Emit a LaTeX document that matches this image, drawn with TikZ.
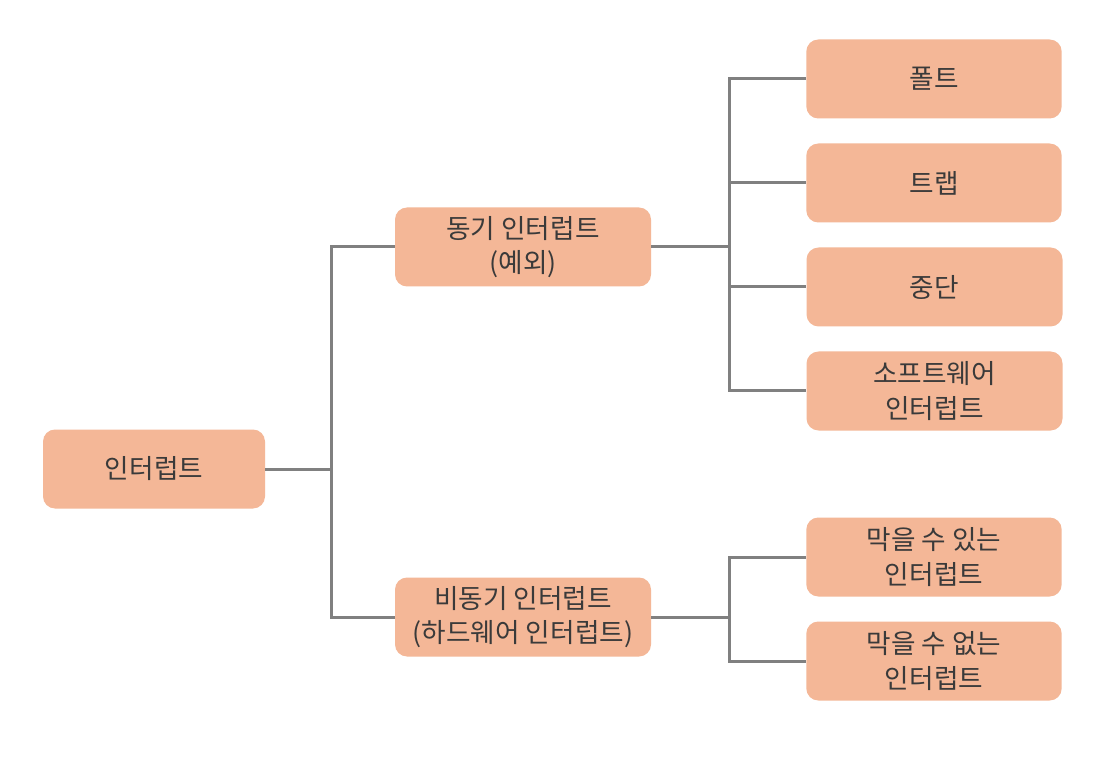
\documentclass[tikz,border=0pt]{standalone}
\usepackage{fontspec}
\newfontfamily\kr{Noto Sans CJK KR}
\definecolor{boxfill}{HTML}{F4B797}
\definecolor{textc}{HTML}{3A3A3A}
\definecolor{linec}{HTML}{808080}
\begin{document}
\begin{tikzpicture}[x=0.75pt,y=-0.75pt,
  box/.style={fill=boxfill, rounded corners=9pt, text=textc,
    font=\kr\fontsize{20}{26}\selectfont, align=center, inner sep=0pt,
    minimum height=59.25pt},
  conn/.style={draw=linec, line width=2.25pt}]
\fill[white] (0,0) rectangle (1117,766);
\useasboundingbox (0,0) rectangle (1117,766);
\node[box, minimum width=166.5pt] (root) at (154,469) {인터럽트};
\node[box, minimum width=192pt] (sync) at (523,247) {동기 인터럽트\\(예외)};
\node[box, minimum width=192pt] (async) at (523,617) {비동기 인터럽트\\(하드웨어 인터럽트)};
\node[box, minimum width=191.5pt] (fault) at (934,79) {폴트};
\node[box, minimum width=191.5pt] (trap) at (934,183) {트랩};
\node[box, minimum width=192pt] (abort) at (934.5,287) {중단};
\node[box, minimum width=192pt] (sw) at (934.5,391) {소프트웨어\\인터럽트};
\node[box, minimum width=191.5pt] (mask) at (934,557) {막을 수 있는\\인터럽트};
\node[box, minimum width=191.5pt] (nmask) at (934,661) {막을 수 없는\\인터럽트};
\coordinate (j1) at (331,469);
\coordinate (j2) at (729,247);
\coordinate (j3) at (729,617);
\draw[conn] (root.east) -- (j1);
\draw[conn] (sync.west) -| (j1) |- (async.west);
\draw[conn] (sync.east) -- (j2);
\draw[conn] (fault.west) -| (j2) |- (sw.west);
\draw[conn] (trap.west) -- (trap.west -| j2);
\draw[conn] (abort.west) -- (abort.west -| j2);
\draw[conn] (async.east) -- (j3);
\draw[conn] (mask.west) -| (j3) |- (nmask.west);
\end{tikzpicture}
\end{document}
